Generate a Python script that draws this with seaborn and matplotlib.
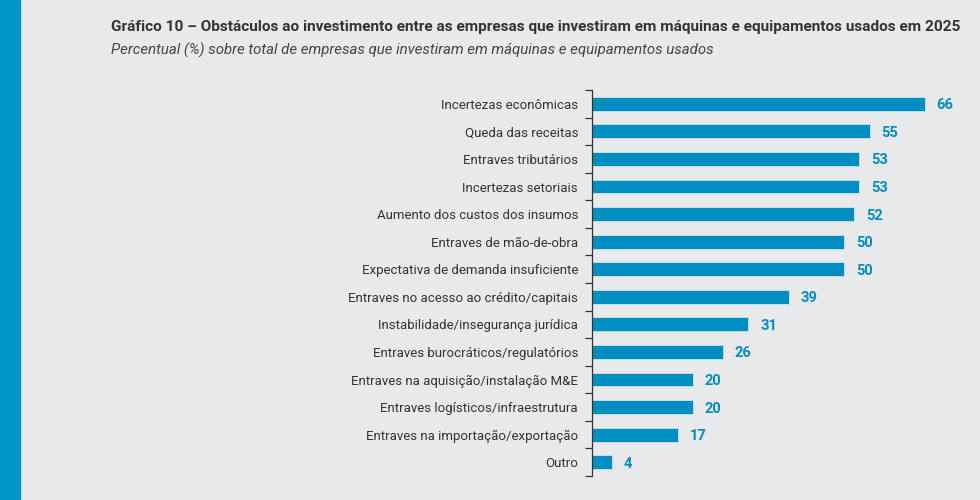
import matplotlib.pyplot as plt
import numpy as np
import pandas as pd
import seaborn as sns
from matplotlib.patches import Rectangle

# Data
categories = [
    "Incertezas econômicas",
    "Queda das receitas",
    "Entraves tributários",
    "Incertezas setoriais",
    "Aumento dos custos dos insumos",
    "Entraves de mão-de-obra",
    "Expectativa de demanda insuficiente",
    "Entraves no acesso ao crédito/capitais",
    "Instabilidade/insegurança jurídica",
    "Entraves burocráticos/regulatórios",
    "Entraves na aquisição/instalação M&E",
    "Entraves logísticos/infraestrutura",
    "Entraves na importação/exportação",
    "Outro",
]
values = [66, 55, 53, 53, 52, 50, 50, 39, 31, 26, 20, 20, 17, 4]

df = pd.DataFrame({"categoria": categories, "valor": values})

bg = "#e8e9eb"
blue = "#008dc0"

sns.set_theme(style="white")
plt.rcParams["font.family"] = ["Roboto", "DejaVu Sans"]

fig = plt.figure(figsize=(9.8, 5), dpi=100, facecolor=bg)
ax = fig.add_axes([0.604, 0.048, 0.376, 0.772])
ax.set_facecolor(bg)

sns.barplot(data=df, x="valor", y="categoria", orient="h", color=blue,
            saturation=1, width=0.5, edgecolor="#cfe6f0", linewidth=0.6, ax=ax)

for i, v in enumerate(values):
    ax.text(v + 2.3, i, str(v), va="center_baseline", ha="left", color=blue,
            fontsize=10.5, fontweight="bold")

ax.set_xlim(0, 73)
ax.set_ylim(len(categories) - 0.5, -0.5)
ax.set_xlabel("")
ax.set_ylabel("")
ax.set_xticks([])
for s in ["top", "right", "bottom"]:
    ax.spines[s].set_visible(False)
ax.spines["left"].set_color("#333333")
ax.spines["left"].set_linewidth(0.9)
ax.tick_params(axis="y", which="major", left=True, length=0, pad=10,
               labelsize=9.5, labelcolor="#333333")
ax.set_yticks(np.arange(-0.5, len(categories), 1), minor=True)
ax.tick_params(axis="y", which="minor", left=True, length=5, width=0.9,
               color="#333333")

# left blue stripe
fig.patches.append(Rectangle((0, 0), 20 / 980, 1, transform=fig.transFigure,
                             color="#0096c6", zorder=0))

fig.text(111 / 980, 1 - 27 / 500, "Gráfico 10 – Obstáculos ao investimento entre as empresas que investiram em máquinas e equipamentos usados em 2025",
         fontsize=11.1, fontweight="bold", color="#333333", va="center")
fig.text(111 / 980, 1 - 50 / 500, "Percentual (%) sobre total de empresas que investiram em máquinas e equipamentos usados",
         fontsize=10.8, fontstyle="italic", color="#444444", va="center")

fig.savefig("out.png", dpi=100, facecolor=bg)
